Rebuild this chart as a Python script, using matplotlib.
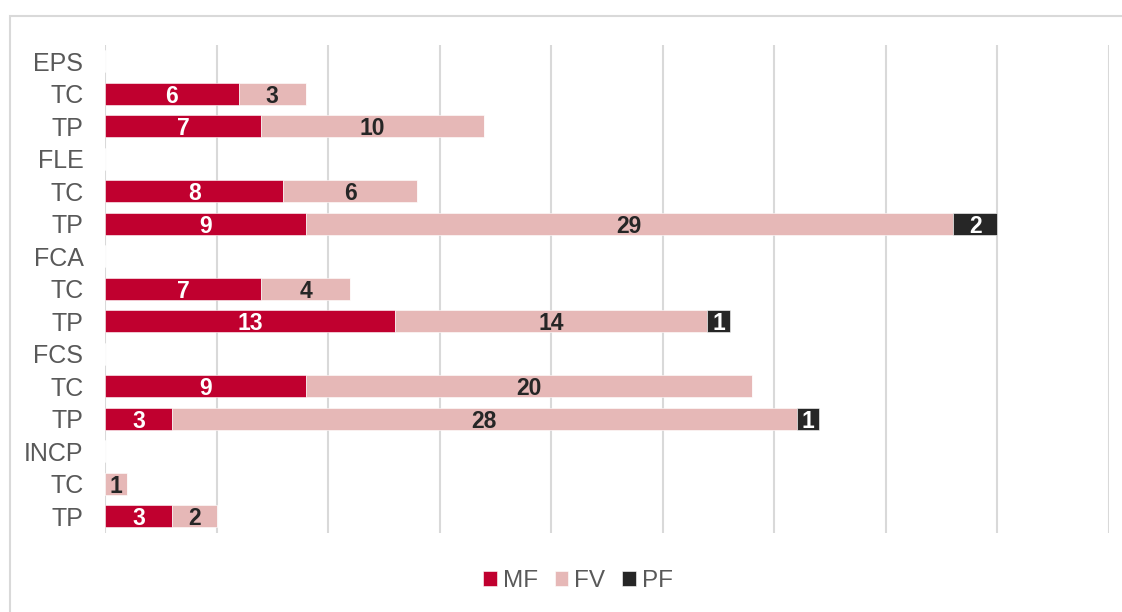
import matplotlib.pyplot as plt
import numpy as np
from matplotlib.patches import Rectangle

# rows from top to bottom; group header rows have no bars
labels = ['EPS', 'TC', 'TP', 'FLE', 'TC', 'TP', 'FCA', 'TC', 'TP',
          'FCS', 'TC', 'TP', 'INCP', 'TC', 'TP']
mf = [0, 6, 7, 0, 8, 9, 0, 7, 13, 0, 9, 3, 0, 0, 3]
fv = [0, 3, 10, 0, 6, 29, 0, 4, 14, 0, 20, 28, 0, 1, 2]
pf = [0, 0, 0, 0, 0, 2, 0, 0, 1, 0, 0, 1, 0, 0, 0]
series = ['MF', 'FV', 'PF']
colors = ['#C0002F', '#E6B8B7', '#262626']
text_colors = ['white', '#262626', 'white']

plt.rcParams['font.family'] = ['Liberation Sans', 'DejaVu Sans']

fig = plt.figure(figsize=(11.22, 6.12), dpi=100)
W, H = 1122, 612
ax = fig.add_axes([105 / W, 1 - 532.5 / H, (1109 - 105) / W, (532.5 - 45) / H])

# outer chart border (cropped on right and bottom)
fig.add_artist(Rectangle((10 / W, -0.1), 1.2, 1 - 16 / H + 0.1,
                         transform=fig.transFigure, fill=False,
                         edgecolor='#d9d9d9', linewidth=1.5))

y = np.arange(len(labels))
left = np.zeros(len(labels))
for vals, name, c, tc in zip([mf, fv, pf], series, colors, text_colors):
    vals = np.array(vals, dtype=float)
    ax.barh(y, vals, left=left, height=0.68, color=c, label=name,
            edgecolor='white', linewidth=0.4, zorder=3)
    for yi, l, v in zip(y, left, vals):
        if v > 0:
            ax.text(l + v / 2, yi, '%d' % v, ha='center', va='center_baseline',
                    color=tc, fontsize=16.5, fontweight='bold', zorder=4)
    left += vals

ax.set_xlim(0, 45)
ax.set_ylim(len(labels) - 0.5, -0.5)
ax.set_xticks(np.arange(0, 46, 5))
ax.set_xticklabels([])
ax.tick_params(axis='x', length=0)
ax.tick_params(axis='y', length=0, pad=15.5, labelsize=18, labelcolor='#595959')
ax.set_yticks(y)
ax.set_yticklabels(labels)
ax.grid(axis='x', color='#d9d9d9', linewidth=1.5, zorder=0)
for s in ax.spines.values():
    s.set_visible(False)

fig.legend(loc='center', bbox_to_anchor=(578 / W, 1 - 581 / H), ncol=3,
           frameon=False, fontsize=17.5, labelcolor='#595959',
           handlelength=0.55, handleheight=0.55, handletextpad=0.25,
           columnspacing=0.7)

fig.savefig('out.png', dpi=100)
